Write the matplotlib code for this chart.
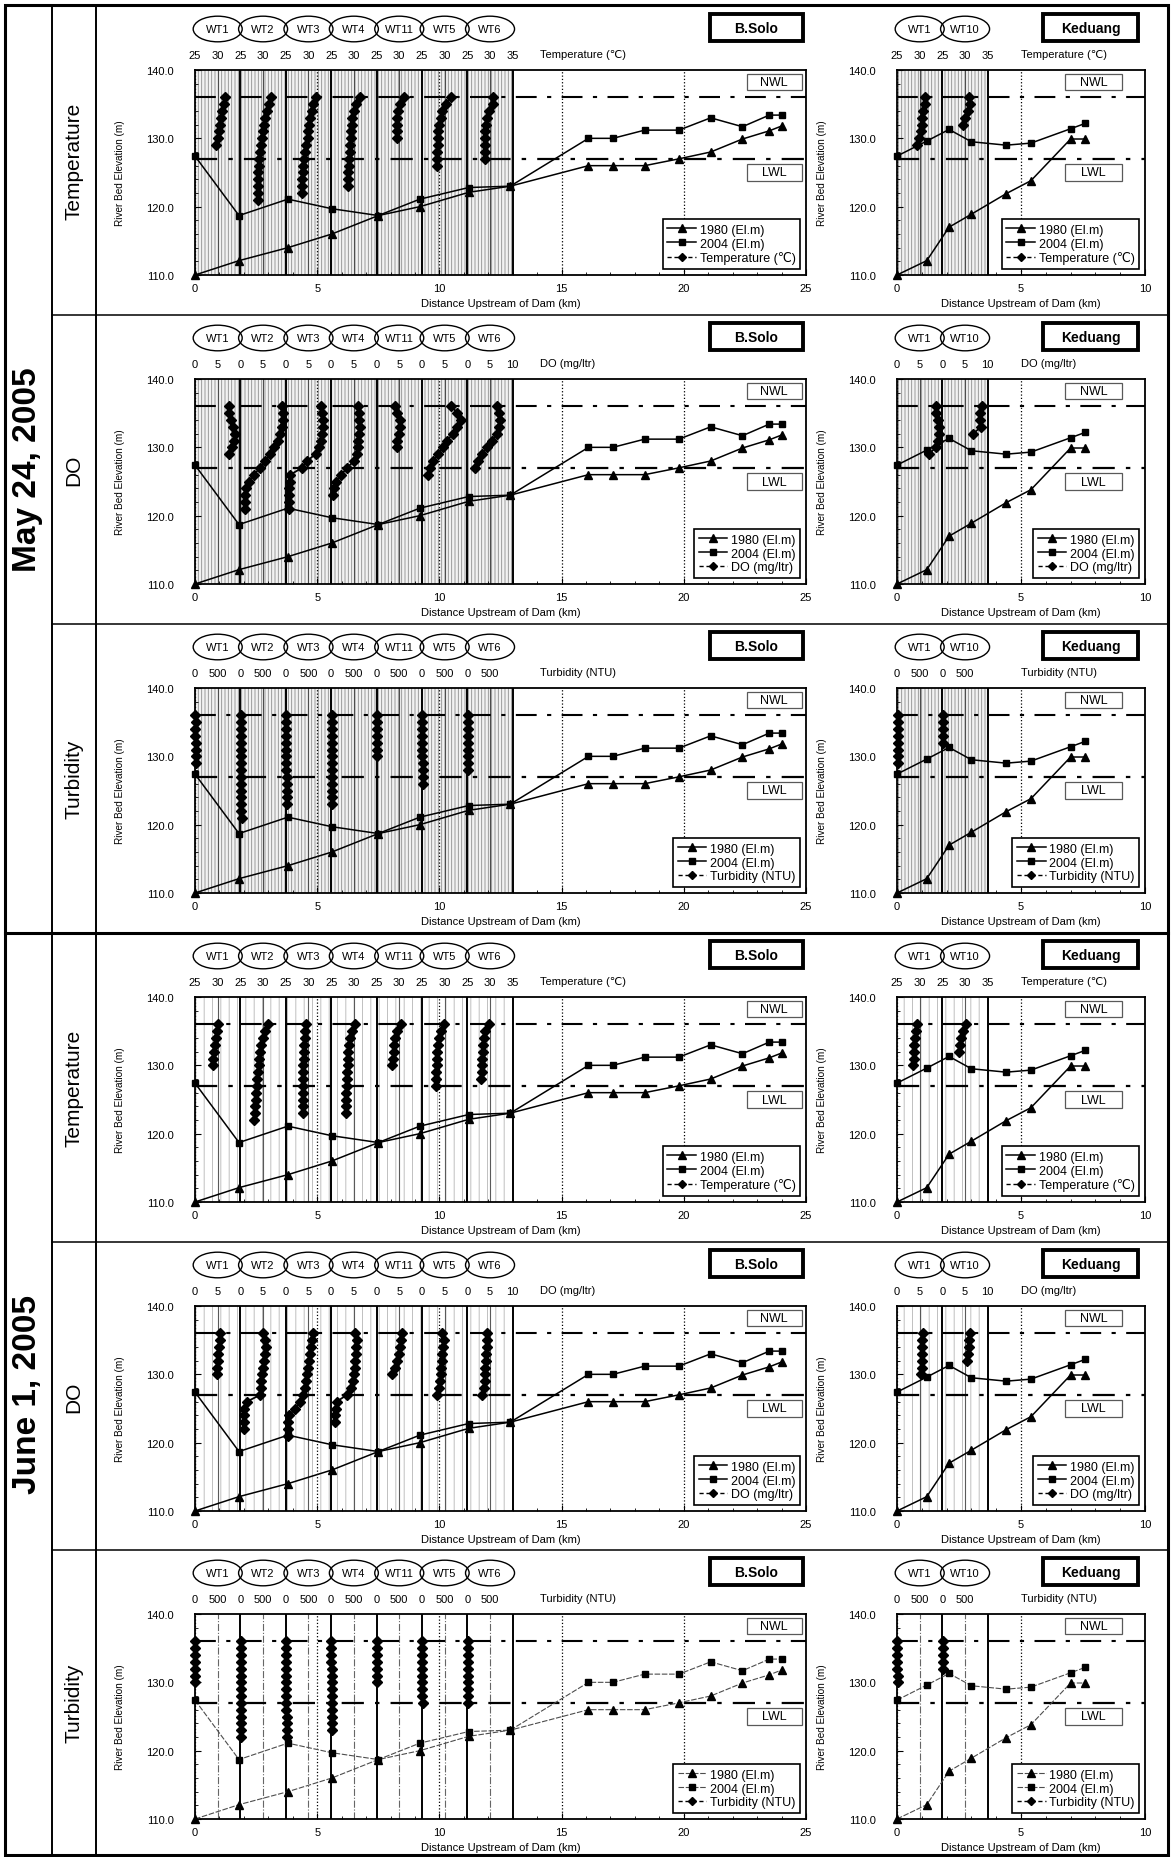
import matplotlib.pyplot as plt
import numpy as np
from matplotlib.patches import Ellipse, Rectangle
from matplotlib.lines import Line2D
import matplotlib.transforms as mtransforms

plt.rcParams['font.family'] = ['Liberation Sans', 'DejaVu Sans']
plt.rcParams['hatch.linewidth'] = 0.6

# river bed profiles (El. m)
bsolo_km = [0, 1.8, 3.8, 5.6, 7.5, 9.2, 11.2, 12.9, 16.1, 17.1, 18.4, 19.8, 21.1, 22.4, 23.5, 24.0]
bsolo_1980 = [110.0, 112.1, 114.0, 116.0, 118.7, 120.0, 122.1, 123.0, 126.0, 126.0, 126.0, 127.0, 128.0, 129.9, 131.1, 131.8]
bsolo_2004 = [127.4, 118.7, 121.1, 119.7, 118.7, 121.1, 122.8, 123.0, 130.0, 130.0, 131.2, 131.2, 133.0, 131.7, 133.4, 133.4]
keduang_km = [0, 1.2, 2.1, 3.0, 4.4, 5.4, 7.0, 7.6]
keduang_1980 = [110.0, 112.1, 117.0, 118.9, 121.9, 123.8, 129.9, 129.9]
keduang_2004 = [127.4, 129.6, 131.3, 129.5, 129.0, 129.3, 131.4, 132.2]

NWL, LWL = 136, 127

# sampling elevations of the well profiles (m), top to bottom
levels = [136, 135, 134, 133, 132, 131, 130, 129, 128, 127, 126, 125, 124, 123, 122, 121]

bsolo_wells = ["WT1", "WT2", "WT3", "WT4", "WT11", "WT5", "WT6"]
keduang_wells = ["WT1", "WT10"]

# May 24, 2005
may_temp_bsolo = [
    [31.5, 31.3, 31.0, 30.8, 30.5, 30.3, 30.0, 29.6],
    [31.7, 31.3, 30.9, 30.5, 30.2, 30.0, 29.8, 29.6, 29.4, 29.2, 29.0, 28.9, 28.8, 28.8, 28.8, 28.8],
    [31.6, 31.1, 30.7, 30.4, 30.2, 30.0, 29.8, 29.5, 29.3, 29.0, 28.8, 28.7, 28.6, 28.6, 28.6],
    [31.3, 30.4, 30.0, 29.7, 29.5, 29.4, 29.3, 29.2, 29.1, 29.0, 28.9, 28.8, 28.7, 28.7],
    [31.0, 30.2, 29.8, 29.6, 29.5, 29.4, 29.4],
    [31.3, 30.3, 29.5, 29.1, 28.8, 28.6, 28.5, 28.5, 28.4, 28.4, 28.4],
    [30.7, 30.7, 29.8, 29.4, 29.1, 28.9, 28.8, 28.8, 28.8, 28.8],
]
may_temp_keduang = [
    [31.1, 31.1, 30.8, 30.6, 30.4, 30.2, 29.9, 29.3],
    [30.8, 31.0, 30.7, 30.0, 29.6],
]
may_do_bsolo = [
    [7.4, 7.6, 7.9, 8.3, 8.8, 8.7, 8.2, 7.6],
    [9.2, 9.4, 9.4, 9.2, 8.8, 8.2, 7.5, 6.6, 5.5, 4.3, 3.0, 1.8, 1.2, 1.1, 1.0, 1.0],
    [7.7, 8.0, 8.2, 8.2, 8.0, 7.8, 7.4, 6.6, 4.6, 3.6, 1.0, 0.9, 0.8, 0.8, 0.8, 0.8],
    [5.9, 6.1, 6.2, 6.3, 6.2, 6.0, 5.9, 5.7, 5.0, 3.5, 2.2, 1.0, 0.6, 0.4],
    [4.0, 4.6, 5.1, 5.2, 4.9, 4.6, 4.4],
    [6.5, 7.8, 8.7, 7.8, 6.8, 5.6, 4.6, 3.6, 2.5, 1.8, 1.4],
    [6.5, 7.0, 7.2, 7.0, 6.5, 5.4, 4.3, 3.3, 2.4, 1.7],
]
may_do_keduang = [
    [8.5, 8.7, 9.0, 9.2, 9.3, 9.1, 8.6, 7.0],
    [8.8, 8.3, 8.2, 8.5, 6.8],
]
may_turb_bsolo = [
    [10, 12, 11, 10, 12, 14, 13, 15],
    [8, 9, 10, 10, 11, 12, 12, 13, 14, 15, 15, 16, 18, 20, 22, 25],
    [9, 10, 10, 11, 11, 12, 13, 14, 15, 16, 18, 19, 21, 24],
    [8, 9, 9, 10, 11, 12, 13, 14, 15, 17, 18, 20, 22, 25],
    [7, 8, 9, 9, 10, 11, 12],
    [6, 7, 8, 9, 10, 11, 12, 13, 15, 17, 19],
    [6, 7, 8, 9, 10, 11, 12, 14, 16],
]
may_turb_keduang = [
    [12, 13, 14, 14, 15, 16, 17, 19],
    [10, 11, 12, 13, 15],
]

# June 1, 2005
jun_temp_bsolo = [
    [30.1, 29.9, 29.6, 29.3, 29.1, 28.9, 28.9],
    [31.1, 30.5, 30.0, 29.6, 29.4, 29.2, 29.0, 28.8, 28.7, 28.6, 28.5, 28.4, 28.3, 28.2, 28.1],
    [29.5, 29.3, 29.2, 29.1, 29.0, 29.0, 28.9, 28.9, 28.9, 28.8, 28.8, 28.8, 28.8, 28.8],
    [30.3, 29.6, 29.2, 28.9, 28.8, 28.7, 28.6, 28.5, 28.4, 28.4, 28.3, 28.3, 28.2, 28.2],
    [30.3, 29.6, 29.1, 28.9, 28.8, 28.6, 28.4],
    [29.9, 29.2, 28.7, 28.5, 28.4, 28.4, 28.3, 28.2, 28.1, 28.0],
    [29.7, 29.0, 28.6, 28.5, 28.4, 28.3, 28.2, 28.2, 28.1],
]
jun_temp_keduang = [
    [29.5, 29.2, 29.0, 28.8, 28.8, 28.7, 28.6],
    [30.1, 29.6, 29.1, 28.9, 28.7],
]
jun_do_bsolo = [
    [5.5, 5.4, 5.3, 5.1, 5.0, 4.9, 4.9],
    [5.0, 5.4, 5.7, 5.4, 5.2, 5.0, 4.7, 4.6, 4.6, 4.4, 1.4, 0.9, 0.8, 0.7, 0.7],
    [5.9, 5.7, 5.5, 5.3, 5.1, 4.9, 4.6, 4.4, 4.2, 3.9, 3.2, 2.0, 0.8, 0.5, 0.4, 0.4],
    [5.3, 5.6, 5.5, 5.4, 5.3, 5.2, 5.0, 4.8, 4.4, 3.5, 1.2, 1.0, 0.9, 0.9],
    [5.5, 5.3, 5.1, 4.9, 4.6, 4.1, 3.5],
    [4.5, 4.9, 4.7, 4.5, 4.4, 4.3, 4.2, 4.0, 3.7, 3.4],
    [4.4, 4.3, 4.3, 4.2, 4.1, 4.0, 3.9, 3.8, 3.6, 3.3],
]
jun_do_keduang = [
    [5.8, 5.6, 5.5, 5.4, 5.5, 5.4, 5.3],
    [6.1, 5.9, 5.8, 5.7, 5.5],
]
jun_turb_bsolo = [
    [6, 7, 7, 8, 9, 10, 11],
    [5, 6, 7, 7, 8, 9, 10, 11, 12, 13, 14, 15, 17, 19, 21],
    [6, 6, 7, 8, 8, 9, 10, 11, 12, 13, 14, 16, 18, 20, 23],
    [5, 6, 7, 7, 8, 9, 10, 11, 12, 13, 15, 17, 19, 21],
    [5, 6, 6, 7, 8, 9, 10],
    [4, 5, 6, 7, 8, 9, 10, 11, 12, 14],
    [4, 5, 6, 7, 8, 9, 10, 11, 13, 15],
]
jun_turb_keduang = [
    [8, 9, 9, 10, 11, 12, 13],
    [7, 8, 9, 10, 12],
]

dates = ["May 24, 2005", "June 1, 2005"]
param_names = ["Temperature", "DO", "Turbidity"]

params = {
    'temp': dict(vmin=25, span=10, step=5, unit='Temperature (\u2103)', last=True),
    'do': dict(vmin=0, span=10, step=5, unit='DO (mg/ltr)', last=True),
    'turb': dict(vmin=0, span=1000, step=500, unit='Turbidity (NTU)', last=False),
}
rows = [
    ('temp', may_temp_bsolo, may_temp_keduang, 'may'),
    ('do', may_do_bsolo, may_do_keduang, 'may'),
    ('turb', may_turb_bsolo, may_turb_keduang, 'may'),
    ('temp', jun_temp_bsolo, jun_temp_keduang, 'jun'),
    ('do', jun_do_bsolo, jun_do_keduang, 'jun'),
    ('turb', jun_turb_bsolo, jun_turb_keduang, 'jun_turb'),
]
styles = {
    'may': dict(hatch='|||||', hc='#8c8c8c', fc='#f2f2f2', mid='-', midc='0.3', bed='-', bedc='k'),
    'jun': dict(hatch='||', hc='#b5b5b5', fc='white', mid='-', midc='0.35', bed='-', bedc='k'),
    'jun_turb': dict(hatch=None, hc='k', fc='white', mid='-.', midc='0.4', bed=(0, (5, 1.5)), bedc='0.3'),
}

W, H = 1171, 1858
fig = plt.figure(figsize=(W / 100, H / 100), dpi=100)


def rect(l, t, w, h):
    return [l / W, 1 - (t + h) / H, w / W, h / H]


def panel(left, top, width, km, y80, y04, xmax, prof_km, wells, profs, p, st,
          title, tbox, nbox, leg_x):
    ax = fig.add_axes(rect(left, top, width, 205))
    ax2 = ax.twiny()
    ax.set_zorder(2)
    ax2.set_zorder(1)
    ax.patch.set_visible(False)
    nseg, span, vmin = len(wells), p['span'], p['vmin']
    ax.set_xlim(0, xmax)
    ax.set_ylim(110, 140)
    ax2.set_xlim(0, nseg * span * xmax / prof_km)

    # well profile strips
    if st['hatch']:
        ax2.axvspan(0, nseg * span, facecolor=st['fc'], hatch=st['hatch'],
                    edgecolor=st['hc'], lw=0, zorder=0)
    for k in range(nseg):
        ax2.axvline(k * span + span / 2, color=st['midc'], lw=0.8, ls=st['mid'], zorder=1)
        ax2.axvline((k + 1) * span, color='k', lw=1.4, zorder=1)
    for k, vals in enumerate(profs):
        xs = [k * span + v - vmin for v in vals]
        ax2.plot(xs, levels[:len(vals)], color='k', lw=1.3, marker='D', ms=4.8, zorder=3,
                 clip_on=False)

    ticks = np.arange(0, nseg * span + 1, p['step'])
    if not p['last']:
        ticks = ticks[:-1]
    labs = ['%d' % (vmin + t - min(int(t // span), nseg - 1) * span) for t in ticks]
    ax2.set_xticks(ticks)
    ax2.set_xticklabels(labs, fontsize=8)
    ax2.tick_params(axis='x', length=0, pad=7)
    ax2.set_yticks([])
    ax2.text(leg_x[1], 1.078, p['unit'], transform=ax2.transAxes, fontsize=8,
             ha='left', va='center')

    # WT labels
    tr = mtransforms.blended_transform_factory(ax2.transData, ax2.transAxes)
    for k, w in enumerate(wells):
        xc = k * span + span / 2
        ax2.add_patch(Ellipse((xc, 1.2), span * 1.08, 0.125, transform=tr, fc='none',
                              ec='k', lw=1.0, clip_on=False))
        ax2.text(xc, 1.2, w, transform=tr, fontsize=8, ha='center', va='center')

    # river bed
    ax.grid(axis='x', which='major', ls=':', color='k', lw=0.9)
    ax.axhline(NWL, color='k', lw=1.5, ls=(0, (10, 5, 2, 5)), zorder=1)
    ax.axhline(LWL, color='k', lw=1.6, ls=(0, (10, 5, 2, 5)), zorder=1)
    bl = 0.8 if st['bed'] != '-' else 1.1
    l1, = ax.plot(km, y80, color=st['bedc'], ls=st['bed'], lw=bl, marker='^', ms=5.5,
                  mfc='k', mec='k', zorder=4, clip_on=False)
    l2, = ax.plot(km, y04, color=st['bedc'], ls=st['bed'], lw=bl, marker='s', ms=4.5,
                  mfc='k', mec='k', zorder=4, clip_on=False)
    lp = Line2D([], [], color='k', lw=1, ls=(0, (3, 2)), marker='D', ms=4)
    leg = ax.legend([l1, l2, lp], ['1980 (El.m)', '2004 (El.m)', p['unit']],
                    loc='lower right', bbox_to_anchor=(leg_x[0], 0.03), fontsize=9,
                    fancybox=False, edgecolor='k', framealpha=1, borderaxespad=0,
                    handlelength=2.3, labelspacing=0.15, handletextpad=0.3,
                    borderpad=0.35)
    leg.get_frame().set_linewidth(1.2)

    # NWL / LWL boxes
    for (yb, txt) in [(0.902, 'NWL'), (0.46, 'LWL')]:
        ax.add_patch(Rectangle((nbox[0], yb), nbox[1], 0.08, transform=ax.transAxes,
                               fc='white', ec='0.35', lw=0.9, zorder=5))
        ax.text(nbox[0] + nbox[1] / 2, yb + 0.04, txt, transform=ax.transAxes,
                fontsize=9, ha='center', va='center', zorder=6)

    # title box
    ax.add_patch(Rectangle((tbox[0], 1.141), tbox[1], 0.132, transform=ax.transAxes,
                           fc='white', ec='k', lw=2.8, clip_on=False, zorder=6))
    ax.text(tbox[0] + tbox[1] / 2, 1.207, title, transform=ax.transAxes, fontsize=10,
            fontweight='bold', ha='center', va='center', zorder=7)

    ax.set_xticks(range(0, xmax + 1, 5))
    ax.set_xticks(range(0, xmax + 1), minor=True)
    ax.set_yticks([110, 120, 130, 140])
    ax.set_yticks(range(110, 141, 2), minor=True)
    ax.yaxis.set_major_formatter('{x:.1f}')
    ax.tick_params(which='both', direction='in', top=False, right=False, labelsize=8)
    ax.tick_params(which='major', length=4)
    ax.tick_params(which='minor', length=2.5)
    ax.tick_params(axis='y', pad=15)
    ax.tick_params(axis='x', pad=6)
    ax.set_xlabel('Distance Upstream of Dam (km)', fontsize=8)
    ax.xaxis.set_label_coords(0.5, -0.138)
    ax.xaxis.label.set_va('center')
    ax.set_ylabel('River Bed Elevation (m)', fontsize=7.2)
    ax.yaxis.set_label_coords(-70 / width, 0.5)
    for s in ax.spines.values():
        s.set_linewidth(1.3)
    for s in ax2.spines.values():
        s.set_visible(False)


row_tops = [7, 316, 625, 934, 1243, 1551]
for i, (key, pb, pk, sty) in enumerate(rows):
    top = row_tops[i] + 64
    p, st = params[key], styles[sty]
    panel(195, top, 611, bsolo_km, bsolo_1980, bsolo_2004, 25, 13.0, bsolo_wells, pb,
          p, st, 'B.Solo', (0.843, 0.152), (0.903, 0.09), (0.99, 0.565))
    panel(897, top, 248, keduang_km, keduang_1980, keduang_2004, 10, 3.66, keduang_wells,
          pk, p, st, 'Keduang', (0.589, 0.383), (0.677, 0.23), (0.976, 0.50))

# frame and row headers
bg = fig.add_axes([0, 0, 1, 1], zorder=-5)
bg.set_xlim(0, W)
bg.set_ylim(H, 0)
bg.axis('off')
bg.add_patch(Rectangle((5, 6), 1163, 1850, fc='none', ec='k', lw=2.2))
bg.plot([52, 52], [6, 1856], color='k', lw=1.4)
bg.plot([96, 96], [6, 1856], color='k', lw=1.4)
for y in [316, 625, 1243, 1551]:
    bg.plot([52, 1168], [y, y], color='k', lw=1.1)
bg.plot([5, 1168], [934, 934], color='k', lw=2.2)
bg.text(28, (6 + 934) / 2, dates[0], rotation=90, fontsize=24, fontweight='bold',
        ha='center', va='center')
bg.text(28, (934 + 1856) / 2, dates[1], rotation=90, fontsize=24, fontweight='bold',
        ha='center', va='center')
edges = row_tops + [1856]
for i in range(6):
    bg.text(74, (edges[i] + edges[i + 1]) / 2, param_names[i % 3], rotation=90,
            fontsize=15, ha='center', va='center')

fig.savefig('out.png', dpi=100)
